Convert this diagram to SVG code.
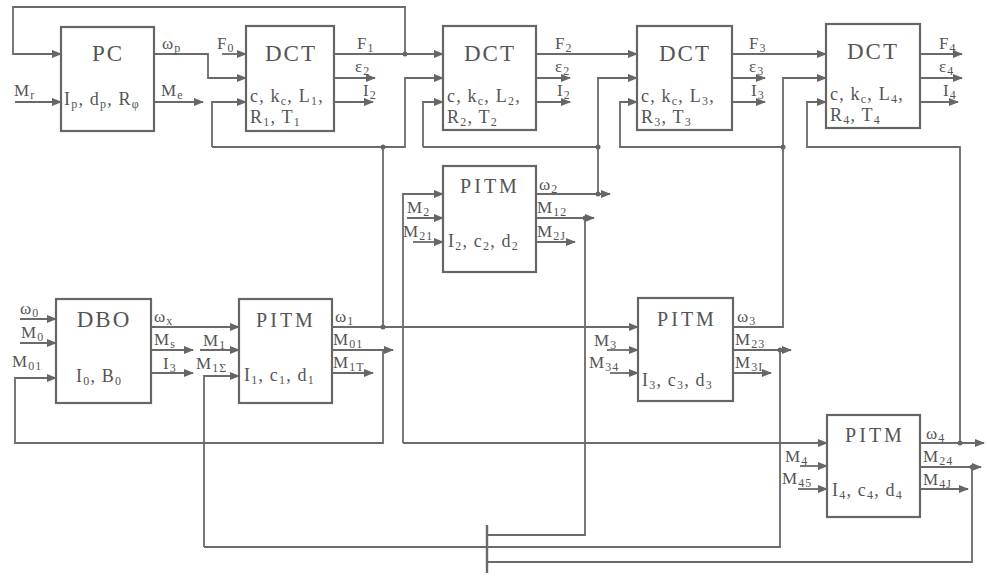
<svg xmlns="http://www.w3.org/2000/svg" width="987" height="579" viewBox="0 0 987 579">
<style>
 .bx{fill:none;stroke:#666;stroke-width:2.2}
 .ln{fill:none;stroke:#6a6a6a;stroke-width:1.8}
 .ar{marker-end:url(#a)}
 .dot{fill:#666}
 text{font-family:"Liberation Serif","Times New Roman",serif;fill:#555}
 .t{font-size:23px;letter-spacing:2px;text-anchor:middle}
 .tp{font-size:20px;letter-spacing:3px;text-anchor:middle}
 .p{font-size:18px;letter-spacing:1.2px}
 .l{font-size:17px;letter-spacing:1px}
 .s{font-size:12px}
</style>
<defs>
 <marker id="a" markerWidth="10" markerHeight="8" refX="9" refY="4" orient="auto" markerUnits="userSpaceOnUse"><path d="M0,0 L10,4 L0,8 z" fill="#666"/></marker>
</defs>
<rect width="987" height="579" fill="#fff"/>

<g id="connectors">
 <path class="ln ar" d="M405,54 V7 H13 V54 H61"/>
 <path class="ln ar" d="M15,102 H61"/>
 <path class="ln ar" d="M154,54 H208 V78 H246"/>
 <path class="ln ar" d="M154,102 H203"/>
 <path class="ln ar" d="M222,54 H246"/>
 <path class="ln ar" d="M334,54 H443"/>
 <path class="ln ar" d="M334,78 H375"/>
 <path class="ln ar" d="M334,102 H373"/>
 <path class="ln" d="M383,327 V147"/>
 <path class="ln ar" d="M212,147 V102 H246"/>
 <path class="ln ar" d="M212,147 H405 V78 H443"/>
 <path class="ln ar" d="M536,54 H637"/>
 <path class="ln ar" d="M536,78 H570"/>
 <path class="ln ar" d="M536,102 H570"/>
 <path class="ln ar" d="M536,194 H610"/>
 <path class="ln" d="M598,194 V147 H423"/>
 <path class="ln ar" d="M423,147 V102 H443"/>
 <path class="ln ar" d="M598,147 V78 H637"/>
 <path class="ln ar" d="M732,54 H826"/>
 <path class="ln ar" d="M732,78 H765"/>
 <path class="ln ar" d="M732,102 H765"/>
 <path class="ln ar" d="M733,327 H783 V78 H826"/>
 <path class="ln ar" d="M783,147 H620 V102 H637"/>
 <path class="ln ar" d="M920,54 H962"/>
 <path class="ln ar" d="M920,78 H962"/>
 <path class="ln ar" d="M920,102 H958"/>
 <path class="ln ar" d="M920,443 H984"/>
 <path class="ln ar" d="M960,443 V147 H807 V102 H826"/>
 <path class="ln ar" d="M20,319 H56"/>
 <path class="ln ar" d="M20,343 H56"/>
 <path class="ln ar" d="M383,350 V443 H15 V378 H56"/>
 <path class="ln ar" d="M151,327 H239"/>
 <path class="ln ar" d="M151,350 H193"/>
 <path class="ln ar" d="M151,373 H193"/>
 <path class="ln ar" d="M200,350 H239"/>
 <path class="ln ar" d="M204,547 V376 H239"/>
 <path class="ln ar" d="M332,327 H638"/>
 <path class="ln ar" d="M332,350 H393"/>
 <path class="ln ar" d="M332,373 H373"/>
 <path class="ln ar" d="M403,443 V194 H443"/>
 <path class="ln ar" d="M403,443 H827"/>
 <path class="ln ar" d="M407,218 H443"/>
 <path class="ln ar" d="M413,242 H443"/>
 <path class="ln ar" d="M536,218 H594"/>
 <path class="ln" d="M585,218 V535 H487"/>
 <path class="ln ar" d="M536,242 H575"/>
 <path class="ln ar" d="M607,350 H638"/>
 <path class="ln ar" d="M610,373 H638"/>
 <path class="ln ar" d="M733,350 H791"/>
 <path class="ln" d="M780,350 V547 H204"/>
 <path class="ln ar" d="M733,373 H771"/>
 <path class="ln ar" d="M800,466 H827"/>
 <path class="ln ar" d="M798,489 H827"/>
 <path class="ln ar" d="M920,467 H981"/>
 <path class="ln" d="M972,467 V562 H487"/>
 <path class="ln ar" d="M920,489 H968"/>
 <path class="ln" d="M487,525 V573" style="stroke-width:2.4"/>
 <circle class="dot" cx="405" cy="54" r="2.5"/>
 <circle class="dot" cx="383" cy="147" r="2.5"/>
 <circle class="dot" cx="598" cy="147" r="2.5"/>
 <circle class="dot" cx="783" cy="147" r="2.5"/>
 <circle class="dot" cx="960" cy="443" r="2.5"/>
 <circle class="dot" cx="383" cy="327" r="2.5"/>
 <circle class="dot" cx="585" cy="218" r="2.5"/>
 <circle class="dot" cx="780" cy="350" r="2.5"/>
 <circle class="dot" cx="972" cy="467" r="2.5"/>
 <circle class="dot" cx="598" cy="194" r="2.5"/>
</g>

<g id="labels">
 <text class="l" x="14" y="96">M<tspan class="s" dy="3">r</tspan></text>
 <text class="l" x="162" y="49">ω<tspan class="s" dy="3">p</tspan></text>
 <text class="l" x="161" y="96">M<tspan class="s" dy="3">e</tspan></text>
 <text class="l" x="217" y="49">F<tspan class="s" dy="3">0</tspan></text>
 <text class="l" x="357" y="49">F<tspan class="s" dy="3">1</tspan></text>
 <text class="l" x="355" y="72">ε<tspan class="s" dy="3">2</tspan></text>
 <text class="l" x="363" y="96">I<tspan class="s" dy="3">2</tspan></text>
 <text class="l" x="555" y="49">F<tspan class="s" dy="3">2</tspan></text>
 <text class="l" x="555" y="72">ε<tspan class="s" dy="3">2</tspan></text>
 <text class="l" x="557" y="96">I<tspan class="s" dy="3">2</tspan></text>
 <text class="l" x="749" y="49">F<tspan class="s" dy="3">3</tspan></text>
 <text class="l" x="749" y="72">ε<tspan class="s" dy="3">3</tspan></text>
 <text class="l" x="751" y="96">I<tspan class="s" dy="3">3</tspan></text>
 <text class="l" x="939" y="49">F<tspan class="s" dy="3">4</tspan></text>
 <text class="l" x="939" y="72">ε<tspan class="s" dy="3">4</tspan></text>
 <text class="l" x="943" y="96">I<tspan class="s" dy="3">4</tspan></text>
 <text class="l" x="539" y="190">ω<tspan class="s" dy="3">2</tspan></text>
 <text class="l" x="537" y="213">M<tspan class="s" dy="3">12</tspan></text>
 <text class="l" x="537" y="237">M<tspan class="s" dy="3">2J</tspan></text>
 <text class="l" x="407" y="213">M<tspan class="s" dy="3">2</tspan></text>
 <text class="l" x="403" y="237">M<tspan class="s" dy="3">21</tspan></text>
 <text class="l" x="20" y="314">ω<tspan class="s" dy="3">0</tspan></text>
 <text class="l" x="21" y="338">M<tspan class="s" dy="3">0</tspan></text>
 <text class="l" x="12" y="367">M<tspan class="s" dy="3">01</tspan></text>
 <text class="l" x="154" y="322">ω<tspan class="s" dy="3">x</tspan></text>
 <text class="l" x="154" y="345">M<tspan class="s" dy="3">s</tspan></text>
 <text class="l" x="163" y="369">I<tspan class="s" dy="3">3</tspan></text>
 <text class="l" x="203" y="346">M<tspan class="s" dy="3">1</tspan></text>
 <text class="l" x="196" y="369">M<tspan class="s" dy="3">1Σ</tspan></text>
 <text class="l" x="335" y="322">ω<tspan class="s" dy="3">1</tspan></text>
 <text class="l" x="333" y="345">M<tspan class="s" dy="3">01</tspan></text>
 <text class="l" x="333" y="368">M<tspan class="s" dy="3">1T</tspan></text>
 <text class="l" x="594" y="346">M<tspan class="s" dy="3">3</tspan></text>
 <text class="l" x="589" y="368">M<tspan class="s" dy="3">34</tspan></text>
 <text class="l" x="737" y="322">ω<tspan class="s" dy="3">3</tspan></text>
 <text class="l" x="735" y="345">M<tspan class="s" dy="3">23</tspan></text>
 <text class="l" x="735" y="368">M<tspan class="s" dy="3">3I</tspan></text>
 <text class="l" x="785" y="462">M<tspan class="s" dy="3">4</tspan></text>
 <text class="l" x="782" y="484">M<tspan class="s" dy="3">45</tspan></text>
 <text class="l" x="926" y="439">ω<tspan class="s" dy="3">4</tspan></text>
 <text class="l" x="923" y="462">M<tspan class="s" dy="3">24</tspan></text>
 <text class="l" x="923" y="485">M<tspan class="s" dy="3">4J</tspan></text>
</g>

<g id="PC">
 <rect class="bx" x="61" y="27" width="93" height="104"/>
 <text class="t" x="108" y="61">PC</text>
 <text class="p" x="64" y="105">I<tspan class="s" dy="3">p</tspan><tspan dy="-3">, d</tspan><tspan class="s" dy="3">p</tspan><tspan dy="-3">, R</tspan><tspan class="s" dy="3">φ</tspan></text>
</g>
<g id="DCT1">
 <rect class="bx" x="246" y="26" width="88" height="105"/>
 <text class="t" x="291" y="61">DCT</text>
 <text class="p" x="250" y="102">c, k<tspan class="s" dy="3">c</tspan><tspan dy="-3">, L</tspan><tspan class="s" dy="3">1</tspan><tspan dy="-3">,</tspan></text>
 <text class="p" x="250" y="123">R<tspan class="s" dy="3">1</tspan><tspan dy="-3">, T</tspan><tspan class="s" dy="3">1</tspan></text>
</g>
<g id="DCT2">
 <rect class="bx" x="443" y="26" width="93" height="104"/>
 <text class="t" x="490" y="61">DCT</text>
 <text class="p" x="447" y="102">c, k<tspan class="s" dy="3">c</tspan><tspan dy="-3">, L</tspan><tspan class="s" dy="3">2</tspan><tspan dy="-3">,</tspan></text>
 <text class="p" x="447" y="123">R<tspan class="s" dy="3">2</tspan><tspan dy="-3">, T</tspan><tspan class="s" dy="3">2</tspan></text>
</g>
<g id="DCT3">
 <rect class="bx" x="637" y="26" width="95" height="104"/>
 <text class="t" x="685" y="61">DCT</text>
 <text class="p" x="641" y="102">c, k<tspan class="s" dy="3">c</tspan><tspan dy="-3">, L</tspan><tspan class="s" dy="3">3</tspan><tspan dy="-3">,</tspan></text>
 <text class="p" x="641" y="123">R<tspan class="s" dy="3">3</tspan><tspan dy="-3">, T</tspan><tspan class="s" dy="3">3</tspan></text>
</g>
<g id="DCT4">
 <rect class="bx" x="826" y="24" width="94" height="104"/>
 <text class="t" x="873" y="59">DCT</text>
 <text class="p" x="830" y="100">c, k<tspan class="s" dy="3">c</tspan><tspan dy="-3">, L</tspan><tspan class="s" dy="3">4</tspan><tspan dy="-3">,</tspan></text>
 <text class="p" x="830" y="121">R<tspan class="s" dy="3">4</tspan><tspan dy="-3">, T</tspan><tspan class="s" dy="3">4</tspan></text>
</g>
<g id="PITM2">
 <rect class="bx" x="443" y="166" width="93" height="106"/>
 <text class="tp" x="490" y="193">PITM</text>
 <text class="p" x="448" y="247">I<tspan class="s" dy="3">2</tspan><tspan dy="-3">, c</tspan><tspan class="s" dy="3">2</tspan><tspan dy="-3">, d</tspan><tspan class="s" dy="3">2</tspan></text>
</g>
<g id="DBO">
 <rect class="bx" x="56" y="299" width="95" height="104"/>
 <text class="t" x="104" y="327">DBO</text>
 <text class="p" x="76" y="382">I<tspan class="s" dy="3">0</tspan><tspan dy="-3">, B</tspan><tspan class="s" dy="3">0</tspan></text>
</g>
<g id="PITM1">
 <rect class="bx" x="239" y="299" width="93" height="104"/>
 <text class="tp" x="286" y="327">PITM</text>
 <text class="p" x="244" y="381">I<tspan class="s" dy="3">1</tspan><tspan dy="-3">, c</tspan><tspan class="s" dy="3">1</tspan><tspan dy="-3">, d</tspan><tspan class="s" dy="3">1</tspan></text>
</g>
<g id="PITM3">
 <rect class="bx" x="638" y="298" width="95" height="103"/>
 <text class="tp" x="687" y="326">PITM</text>
 <text class="p" x="642" y="386">I<tspan class="s" dy="3">3</tspan><tspan dy="-3">, c</tspan><tspan class="s" dy="3">3</tspan><tspan dy="-3">, d</tspan><tspan class="s" dy="3">3</tspan></text>
</g>
<g id="PITM4">
 <rect class="bx" x="827" y="415" width="93" height="102"/>
 <text class="tp" x="875" y="442">PITM</text>
 <text class="p" x="832" y="496">I<tspan class="s" dy="3">4</tspan><tspan dy="-3">, c</tspan><tspan class="s" dy="3">4</tspan><tspan dy="-3">, d</tspan><tspan class="s" dy="3">4</tspan></text>
</g>
</svg>
